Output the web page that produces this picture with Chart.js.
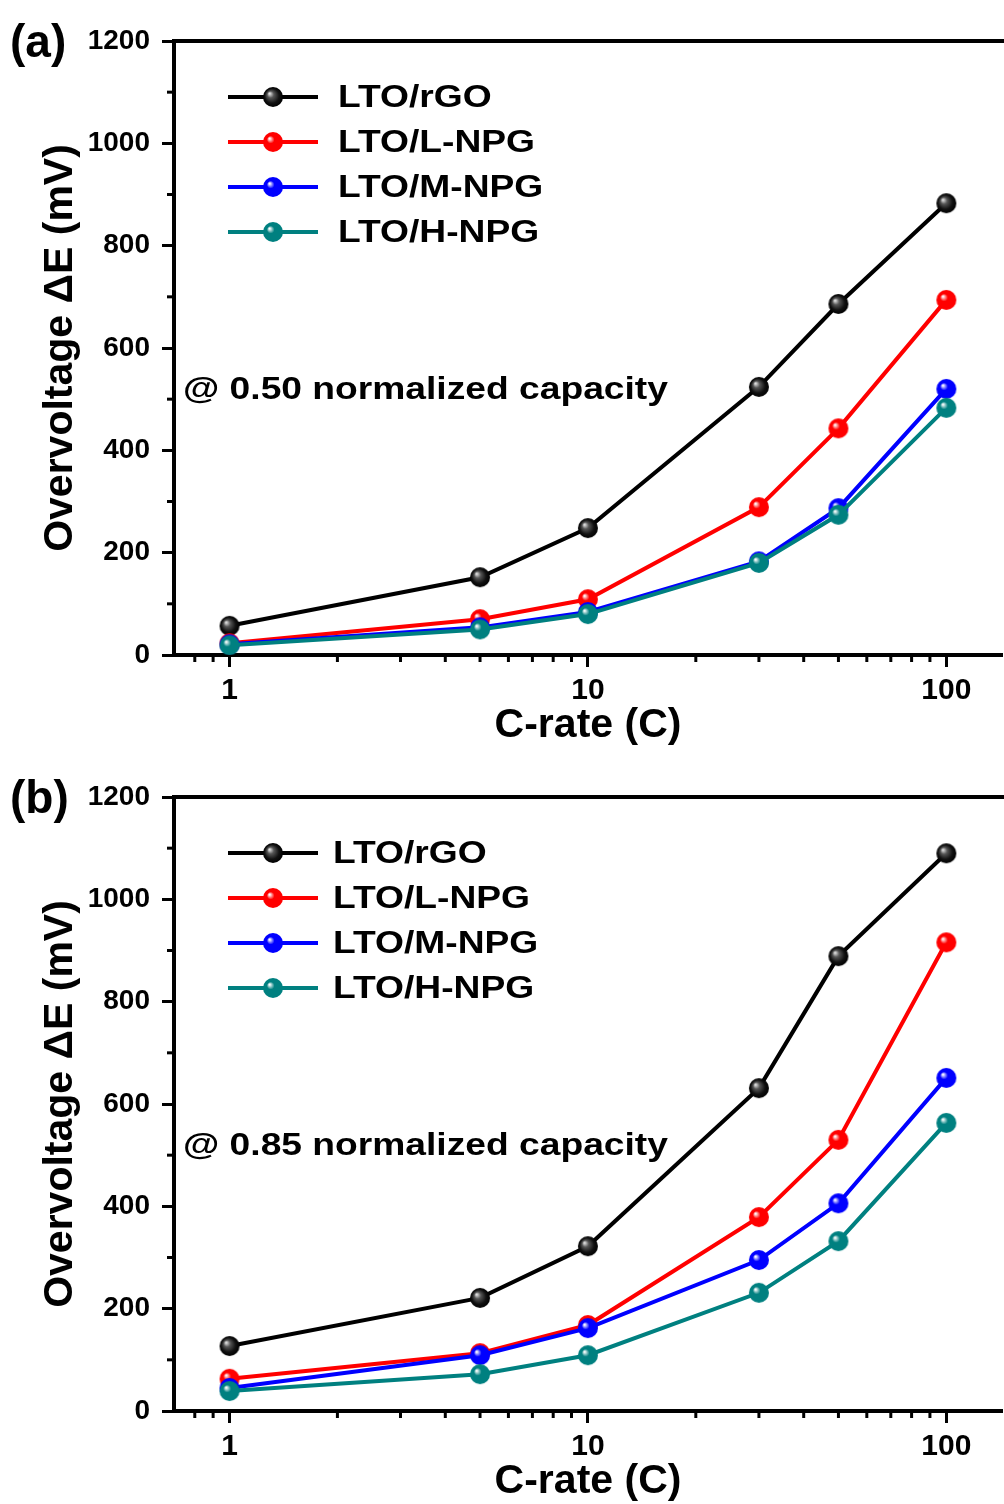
<!DOCTYPE html>
<html>
<head>
<meta charset="utf-8">
<script src="https://cdn.jsdelivr.net/npm/chart.js@4.4.0/dist/chart.umd.min.js"></script>
<style>
  html, body { margin: 0; padding: 0; background: #fff; overflow: hidden; width: 1004px; height: 1504px; }
  canvas { display: block; }
</style>
</head>
<body>
<canvas id="chartA" width="1010" height="756"></canvas>
<canvas id="chartB" width="1010" height="756"></canvas>
<script>
// data
const cRates = [1, 5, 10, 30, 50, 100];
const seriesNames = ["LTO/rGO", "LTO/L-NPG", "LTO/M-NPG", "LTO/H-NPG"];
const seriesColors = ["#000000", "#ff0000", "#0000ff", "#008080"];

// (a) @ 0.50 normalized capacity
const rgoA = [57, 152, 248, 524, 686, 883];
const lnpgA = [23, 70, 109, 289, 443, 694];
const mnpgA = [21, 54, 84, 183, 287, 520];
const hnpgA = [19, 50, 80, 180, 274, 483];

// (b) @ 0.85 normalized capacity
const rgoB = [127, 221, 322, 631, 889, 1090];
const lnpgB = [63, 113, 168, 379, 530, 916];
const mnpgB = [45, 109, 162, 295, 406, 651];
const hnpgB = [39, 72, 109, 231, 332, 563];

const yMajor = [0, 200, 400, 600, 800, 1000, 1200];
const yMinor = [100, 300, 500, 700, 900, 1100];
const xMajor = [1, 10, 100];
const xMinor = [0.8, 0.9, 2, 3, 4, 5, 6, 7, 8, 9, 20, 30, 40, 50, 60, 70, 80, 90];

const FONT = "'Liberation Sans', Arial, sans-serif";
const TEXT_STRETCH = 1.2; // the original lettering is set wide

// shaded ball marker, like the 3D spheres of the original
function makeBall(color, r) {
  const size = 2 * r + 2;
  const c = document.createElement("canvas");
  c.width = size;
  c.height = size;
  const g = c.getContext("2d");
  const cx = size / 2, cy = size / 2;
  const grad = g.createRadialGradient(cx - r * 0.35, cy - r * 0.35, r * 0.05, cx, cy, r);
  if (color === "#000000") {
    grad.addColorStop(0, "#e0e0e0");
    grad.addColorStop(0.3, "#555555");
    grad.addColorStop(0.7, "#111111");
    grad.addColorStop(1, "#000000");
  } else {
    grad.addColorStop(0, "#ffffff");
    grad.addColorStop(0.35, color);
    grad.addColorStop(1, color);
  }
  g.fillStyle = grad;
  g.beginPath();
  g.arc(cx, cy, r, 0, Math.PI * 2);
  g.fill();
  return c;
}

const balls = seriesColors.map(c => makeBall(c, 10));

function wideText(ctx, text, x, y, sx) {
  ctx.save();
  ctx.translate(x, y);
  ctx.scale(sx, 1);
  ctx.fillText(text, 0, 0);
  ctx.restore();
}

const decorPlugin = {
  id: "decor",
  afterDraw(chart, args, opts) {
    const { ctx, chartArea } = chart;
    const x = chart.scales.x, y = chart.scales.y;
    ctx.save();
    ctx.strokeStyle = "#000";
    // top frame line
    ctx.lineWidth = 4;
    ctx.beginPath();
    ctx.moveTo(chartArea.left - 2, chartArea.top);
    ctx.lineTo(chartArea.right + 10, chartArea.top);
    ctx.stroke();
    // minor ticks
    ctx.lineWidth = 3;
    yMinor.forEach(v => {
      const py = y.getPixelForValue(v);
      ctx.beginPath();
      ctx.moveTo(chartArea.left - 7, py);
      ctx.lineTo(chartArea.left, py);
      ctx.stroke();
    });
    xMinor.forEach(v => {
      const px = x.getPixelForValue(v);
      ctx.beginPath();
      ctx.moveTo(px, chartArea.bottom);
      ctx.lineTo(px, chartArea.bottom + 7);
      ctx.stroke();
    });
    // legend
    ctx.font = "bold 31px " + FONT;
    ctx.textBaseline = "middle";
    ctx.textAlign = "left";
    chart.data.datasets.forEach((ds, i) => {
      const ly = opts.legendTop + i * 45;
      ctx.strokeStyle = ds.borderColor;
      ctx.lineWidth = 4;
      ctx.beginPath();
      ctx.moveTo(228, ly);
      ctx.lineTo(318, ly);
      ctx.stroke();
      ctx.drawImage(balls[i], 273 - balls[i].width / 2, ly - balls[i].height / 2);
      ctx.fillStyle = "#000";
      wideText(ctx, ds.label, opts.legendX, ly + 1, TEXT_STRETCH);
    });
    // note and panel label
    ctx.font = "bold 31px " + FONT;
    wideText(ctx, opts.note, 183, 390, 1.2);
    ctx.font = "bold 46px " + FONT;
    ctx.fillText(opts.panel, 10, 44);
    ctx.restore();
  }
};

function makeChart(id, values, panel, note, legendX) {
  const ctx = document.getElementById(id).getContext("2d");
  return new Chart(ctx, {
    type: "line",
    data: {
      datasets: values.map((vals, i) => ({
        label: seriesNames[i],
        data: cRates.map((c, j) => ({ x: c, y: vals[j] })),
        borderColor: seriesColors[i],
        backgroundColor: seriesColors[i],
        borderWidth: 4,
        pointStyle: balls[i],
        tension: 0,
        order: values.length - 1 - i
      }))
    },
    options: {
      responsive: false,
      animation: false,
      layout: { padding: { top: 41, left: 0, right: 0, bottom: 0 } },
      plugins: {
        legend: { display: false },
        tooltip: { enabled: false },
        decor: { panel: panel, note: note, legendX: legendX, legendTop: 97 }
      },
      scales: {
        x: {
          type: "logarithmic",
          min: 0.7,
          max: 143,
          afterBuildTicks: s => { s.ticks = xMajor.map(v => ({ value: v })); },
          afterFit: s => { s.height = 101; },
          ticks: {
            callback: v => String(v),
            color: "#000",
            padding: 6,
            maxRotation: 0,
            font: { family: FONT, size: 30, weight: "bold" }
          },
          grid: { drawOnChartArea: false, tickLength: 12, tickWidth: 3, color: "#000" },
          border: { display: true, width: 4, color: "#000" },
          title: {
            display: true,
            text: "C-rate (C)",
            color: "#000",
            padding: { top: 0, bottom: 6 },
            font: { family: FONT, size: 41, weight: "bold" }
          }
        },
        y: {
          min: 0,
          max: 1200,
          afterBuildTicks: s => { s.ticks = yMajor.map(v => ({ value: v })); },
          afterFit: s => { s.width = 174; },
          ticks: {
            callback: v => String(v),
            color: "#000",
            padding: 12,
            font: { family: FONT, size: 28, weight: "bold" }
          },
          grid: { drawOnChartArea: false, tickLength: 12, tickWidth: 3, color: "#000" },
          border: { display: true, width: 4, color: "#000" },
          title: {
            display: true,
            text: "Overvoltage \u0394E (mV)",
            color: "#000",
            padding: { top: 36, bottom: 0 },
            font: { family: FONT, size: 41, weight: "bold" }
          }
        }
      }
    },
    plugins: [decorPlugin]
  });
}

makeChart("chartA", [rgoA, lnpgA, mnpgA, hnpgA], "(a)", "@ 0.50 normalized capacity", 338);
makeChart("chartB", [rgoB, lnpgB, mnpgB, hnpgB], "(b)", "@ 0.85 normalized capacity", 333);
</script>
</body>
</html>
